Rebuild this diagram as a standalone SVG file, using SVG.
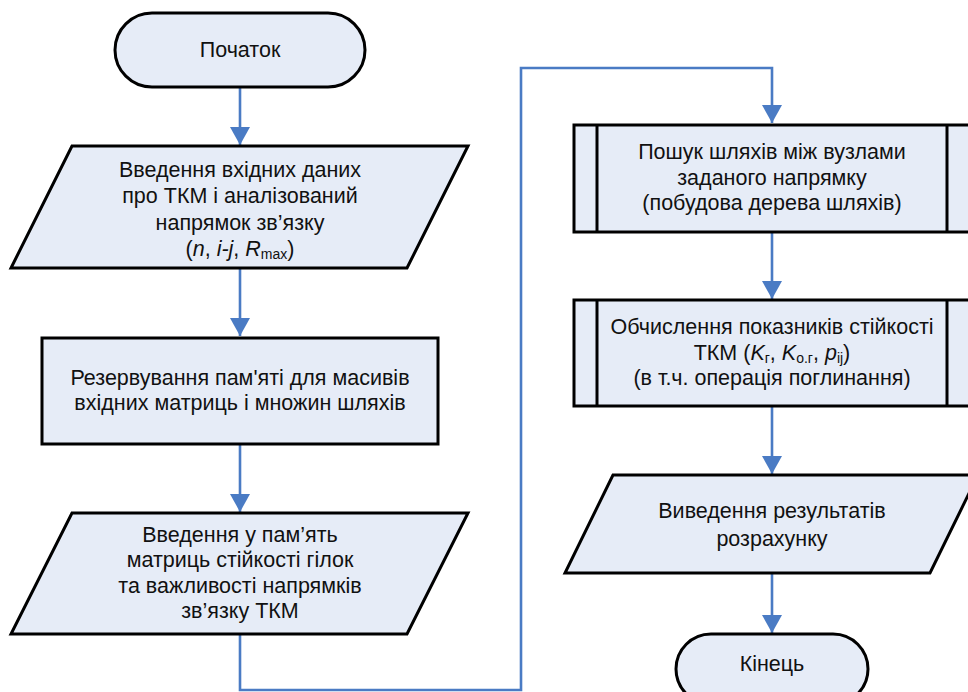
<svg xmlns="http://www.w3.org/2000/svg" width="968" height="692" viewBox="0 0 968 692">
<defs>
<style>
.box{fill:#E6ECF7;stroke:#000;stroke-width:3;stroke-linejoin:miter}
.t{font-family:"Liberation Sans",Arial,sans-serif;font-size:21.5px;fill:#111;text-anchor:middle}
.i{font-style:italic}
.s{font-size:14px}
.c{fill:none;stroke:#4A7BC4;stroke-width:2.6}
</style>
<marker id="ah" markerUnits="userSpaceOnUse" markerWidth="20" markerHeight="20" refX="18" refY="10" orient="auto">
<path d="M0,0 L18,10 L0,20 z" fill="#4A7BC4"/>
</marker>
</defs>
<rect width="968" height="692" fill="#fff"/>
<g id="connectors">
<path class="c" d="M240,87 V145" marker-end="url(#ah)"/>
<path class="c" d="M240,268 V336" marker-end="url(#ah)"/>
<path class="c" d="M240,444 V512" marker-end="url(#ah)"/>
<path class="c" d="M240,634 V690 H521 V68 H772 V123" marker-end="url(#ah)"/>
<path class="c" d="M772,232 V299" marker-end="url(#ah)"/>
<path class="c" d="M772,406 V474" marker-end="url(#ah)"/>
<path class="c" d="M772,573 V633" marker-end="url(#ah)"/>
</g>
<g id="start">
<rect class="box" x="115" y="13" width="250" height="74" rx="37" ry="37"/>
<text class="t" x="240" y="57">Початок</text>
</g>
<g id="input1">
<polygon class="box" points="72,146 468,146 407,268 11,268"/>
<text class="t" x="240" y="177">Введення вхідних даних</text>
<text class="t" x="240" y="203">про ТКМ і аналізований</text>
<text class="t" x="240" y="230">напрямок зв’язку</text>
<text class="t" x="240" y="256">(<tspan class="i">n</tspan>, <tspan class="i">i-j</tspan>, <tspan class="i">R</tspan><tspan class="s" dy="3">max</tspan><tspan dy="-3">)</tspan></text>
</g>
<g id="reserve">
<rect class="box" x="42" y="338" width="396" height="106"/>
<text class="t" x="240" y="385">Резервування пам'яті для масивів</text>
<text class="t" x="240" y="410">вхідних матриць і множин шляхів</text>
</g>
<g id="input2">
<polygon class="box" points="72,513 468,513 407,634 11,634"/>
<text class="t" x="240" y="542">Введення у пам’ять</text>
<text class="t" x="240" y="567">матриць стійкості гілок</text>
<text class="t" x="240" y="593">та важливості напрямків</text>
<text class="t" x="240" y="618">зв’язку ТКМ</text>
</g>
<g id="search">
<rect class="box" x="574" y="125" width="400" height="107"/>
<line x1="597" y1="125" x2="597" y2="232" stroke="#000" stroke-width="3"/>
<line x1="947" y1="125" x2="947" y2="232" stroke="#000" stroke-width="3"/>
<text class="t" x="772" y="159">Пошук шляхів між вузлами</text>
<text class="t" x="772" y="185">заданого напрямку</text>
<text class="t" x="772" y="210">(побудова дерева шляхів)</text>
</g>
<g id="compute">
<rect class="box" x="574" y="300" width="400" height="106"/>
<line x1="597" y1="300" x2="597" y2="406" stroke="#000" stroke-width="3"/>
<line x1="947" y1="300" x2="947" y2="406" stroke="#000" stroke-width="3"/>
<text class="t" x="772" y="334">Обчислення показників стійкості</text>
<text class="t" x="772" y="360">ТКМ (<tspan class="i">K</tspan><tspan class="s" dy="3">г</tspan><tspan dy="-3">, </tspan><tspan class="i">K</tspan><tspan class="s" dy="3">о.г</tspan><tspan dy="-3">, </tspan><tspan class="i">p</tspan><tspan class="s" dy="3">ij</tspan><tspan dy="-3">)</tspan></text>
<text class="t" x="772" y="385">(в т.ч. операція поглинання)</text>
</g>
<g id="output">
<polygon class="box" points="613,475 978,475 930,573 565,573"/>
<text class="t" x="772" y="518">Виведення результатів</text>
<text class="t" x="772" y="546">розрахунку</text>
</g>
<g id="end">
<rect class="box" x="676" y="634" width="192" height="70" rx="35" ry="35"/>
<text class="t" x="772" y="671">Кінець</text>
</g>
</svg>
